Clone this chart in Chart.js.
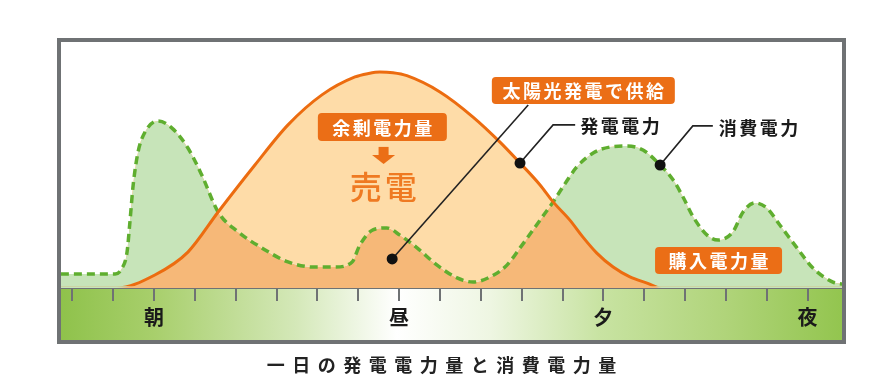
<!DOCTYPE html>
<html><head><meta charset="utf-8">
<script src="https://cdn.jsdelivr.net/npm/chart.js@4/dist/chart.umd.min.js"></script>
<style>html,body{margin:0;padding:0;background:#fff;}#wrap{width:883px;height:381px;position:relative;}</style>
</head><body><div id="wrap"><canvas id="c"></canvas></div>
<script>
// ---- data ----
const timeTicks  = [0,1,2,3,4,5,6,7,8,9,10,11,12,13,14,15,16,17,18];
const timeLabels = ['','','朝','','','','','','昼','','','','','夕','','','','','夜'];

const genHours  = [-0.28,1.09,2.02,2.83,3.57,4.47,5.28,6.11,6.92,7.25,7.53,7.85,8.19,9.0,9.81,10.47,10.96,11.45,11.77,12.18,12.5,12.84,13.24,13.65,14.07,14.43,18.85];
const genValues = [0,0,5.3,14.6,30.9,50.0,66.3,78.5,85.8,87.2,87.8,87.5,86.3,79.7,69.5,59.3,50.8,41.9,35.0,27.6,20.7,14.2,8.5,4.5,2.0,0,0];

const useHours  = [-0.28,1.05,1.22,1.34,1.41,1.49,1.61,1.78,2.10,2.44,2.83,3.17,3.57,4.06,4.64,5.28,5.94,6.43,6.85,7.04,7.36,7.70,8.02,8.44,8.93,9.42,9.81,10.23,10.64,10.96,11.45,11.77,12.01,12.35,12.75,13.16,13.58,13.97,14.39,14.71,14.95,15.2,15.54,15.81,16.17,16.42,16.71,17.0,17.32,17.74,18.13,18.62,18.85];
const useValues = [5.7,5.7,8.1,14.6,26.8,41.9,55.3,63.4,67.9,65.0,56.9,45.9,30.9,22.8,16.3,10.6,8.5,8.5,10.6,17.5,23.6,24.4,21.5,16.3,9.3,4.1,2.4,4.5,9.3,16.3,27.6,35.0,41.1,49.2,54.9,57.3,57.7,56.1,50.0,43.9,37.0,28.9,21.5,19.5,22.8,30.9,34.6,32.5,25.6,16.3,8.1,2.4,1.6];

const seriesNames = ['発電電力','消費電力'];
const caption = '一日の発電電力量と消費電力量';

// annotation anchors in data units (hour index, value)
const boxes = [
  {text:'余剰電力量',       x:7.59,  y:65.4, w:129, h:28},
  {text:'太陽光発電で供給', x:12.51, y:80.3, w:183, h:27},
  {text:'購入電力量',       x:15.82, y:11.2, w:127, h:27}
];
const sellText = {text:'売電', x:7.61, y:41.1};
const arrowPos = {x:7.62, y:53.9};
const callouts = [
  {text:seriesNames[0], tx:13.41, ty:65.9, pts:[[10.96,50.8],[11.77,66.3],[12.31,66.3]]},
  {text:seriesNames[1], tx:16.80, ty:65.0, pts:[[14.39,50.0],[15.19,65.9],[15.68,65.9]]},
  {text:null,           tx:0,     ty:0,    pts:[[7.83,11.8],[11.16,74.4]]}
];

// ---- styles ----
const FONT = '"Noto Sans CJK JP","Noto Sans CJK SC",sans-serif';
const ORANGE = '#eb6e16';
const ORANGE_LINE = '#ec6c10';
const LIGHT_ORANGE = '#fedca8';
const DARK_ORANGE = '#f6b878';
const LIGHT_GREEN = '#c7e4b9';
const GREEN_DASH = '#5fae2f';
const GRAY = '#6f7274';

function spacedText(ctx, text, cx, cy, font, color, ls) {
  ctx.save();
  ctx.font = font; ctx.fillStyle = color;
  ctx.textBaseline = 'middle'; ctx.textAlign = 'left';
  const has = ('letterSpacing' in ctx);
  if (has) ctx.letterSpacing = '0px';
  const w0 = ctx.measureText(text).width;
  const n = [...text].length;
  const W = w0 + (has ? (n - 1) * ls : 0);
  if (has) ctx.letterSpacing = ls + 'px';
  ctx.fillText(text, cx - W / 2, cy);
  ctx.restore();
}

const decor = {
  id: 'decor',
  beforeDraw(chart) {
    const {ctx, chartArea: a, scales: {x}} = chart;
    const g = ctx.createLinearGradient(a.left, 0, a.right, 0);
    g.addColorStop(0, '#8fc24b');
    g.addColorStop(0.12, '#a8cf6c');
    g.addColorStop(0.3, '#d4e8b8');
    g.addColorStop(0.43, '#ffffff');
    g.addColorStop(0.55, '#eef6e2');
    g.addColorStop(0.69, '#c8e3a2');
    g.addColorStop(0.85, '#b0d47a');
    g.addColorStop(1, '#93c54f');
    ctx.save();
    ctx.fillStyle = g;
    ctx.fillRect(a.left, a.bottom, a.right - a.left, x.bottom - a.bottom);
    ctx.restore();
  },
  beforeDatasetDraw(chart, args) {
    if (args.index !== 0) return;
    const {ctx, chartArea: a} = chart;
    ctx.save();
    ctx.beginPath();
    ctx.rect(a.left, a.top - 5, a.right - a.left, a.bottom - a.top + 5 - 1.8);
    ctx.clip();
  },
  afterDatasetDraw(chart, args) {
    if (args.index !== 0) return;
    chart.ctx.restore();
  },
  afterDatasetsDraw(chart) {
    const {ctx, scales: {x, y}} = chart;
    const X = v => x.getPixelForValue(v), Y = v => y.getPixelForValue(v);
    boxes.forEach(b => {
      const cx = X(b.x), cy = Y(b.y);
      ctx.save();
      ctx.fillStyle = ORANGE;
      ctx.beginPath();
      ctx.roundRect(cx - b.w / 2, cy - b.h / 2, b.w, b.h, 4);
      ctx.fill();
      ctx.restore();
      spacedText(ctx, b.text, cx, cy + 1, 'bold 18px ' + FONT, '#ffffff', 2.5);
    });
    const ax = X(arrowPos.x), ay = Y(arrowPos.y);
    ctx.save();
    ctx.fillStyle = ORANGE;
    ctx.fillRect(ax - 5, ay - 8.5, 10, 9);
    ctx.beginPath();
    ctx.moveTo(ax - 11.5, ay - 0.5); ctx.lineTo(ax + 11.5, ay - 0.5); ctx.lineTo(ax, ay + 8.5);
    ctx.closePath(); ctx.fill();
    ctx.restore();
    spacedText(ctx, sellText.text, X(sellText.x), Y(sellText.y), '500 32px ' + FONT, '#ef7a22', 3);
    callouts.forEach(c => {
      ctx.save();
      ctx.strokeStyle = '#222'; ctx.lineWidth = 1.6;
      ctx.beginPath();
      c.pts.forEach((p, i) => { const px = X(p[0]), py = Y(p[1]); i ? ctx.lineTo(px, py) : ctx.moveTo(px, py); });
      ctx.stroke();
      ctx.fillStyle = '#111';
      ctx.beginPath();
      ctx.arc(X(c.pts[0][0]), Y(c.pts[0][1]), 5.5, 0, Math.PI * 2);
      ctx.fill();
      ctx.restore();
      if (c.text) spacedText(ctx, c.text, X(c.tx), Y(c.ty), 'bold 18px ' + FONT, '#1a1a1a', 2.5);
    });
  },
  afterDraw(chart) {
    const {ctx, chartArea: a, scales: {x}} = chart;
    ctx.save();
    ctx.strokeStyle = GRAY; ctx.lineWidth = 4;
    ctx.strokeRect(a.left - 2, a.top - 2, a.right - a.left + 4, x.bottom - a.top + 4);
    ctx.restore();
    spacedText(ctx, caption, chart.width / 2, 365.5, 'bold 18px ' + FONT, '#222', 7.5);
  }
};

new Chart(document.getElementById('c'), {
  type: 'line',
  data: {
    datasets: [
      {
        label: seriesNames[0],
        data: genHours.map((h, i) => ({x: h, y: genValues[i]})),
        borderColor: ORANGE_LINE, borderWidth: 3,
        pointRadius: 0, cubicInterpolationMode: 'monotone',
        fill: {target: 1, above: LIGHT_ORANGE, below: LIGHT_GREEN}
      },
      {
        label: seriesNames[1],
        data: useHours.map((h, i) => ({x: h, y: useValues[i]})),
        borderColor: GREEN_DASH, borderWidth: 3.5, borderDash: [8, 5],
        pointRadius: 0, cubicInterpolationMode: 'monotone',
        backgroundColor: DARK_ORANGE,
        fill: 'origin'
      }
    ]
  },
  options: {
    responsive: true, maintainAspectRatio: false, animation: false,
    devicePixelRatio: 1,
    layout: {padding: {left: 61, right: 41, top: 42, bottom: 41}},
    plugins: {legend: {display: false}, tooltip: {enabled: false}, title: {display: false},
      filler: {drawTime: 'beforeDatasetsDraw', propagate: false}},
    scales: {
      x: {
        type: 'linear', min: -0.277, max: 18.842,
        afterBuildTicks: s => { s.ticks = timeTicks.map(v => ({value: v})); },
        afterFit: s => { s.height = 52; },
        grid: {display: true, drawOnChartArea: false, drawTicks: true, tickLength: 13, color: GRAY, lineWidth: 2},
        border: {display: true, color: GRAY, width: 2},
        ticks: {
          autoSkip: false, maxRotation: 0, padding: 4,
          color: '#1a1a1a', font: {family: FONT, size: 20, weight: 'bold'},
          callback: (v) => timeLabels[timeTicks.indexOf(v)] ?? ''
        }
      },
      y: {display: false, min: 0, max: 100}
    }
  },
  plugins: [decor]
});
</script></body></html>
